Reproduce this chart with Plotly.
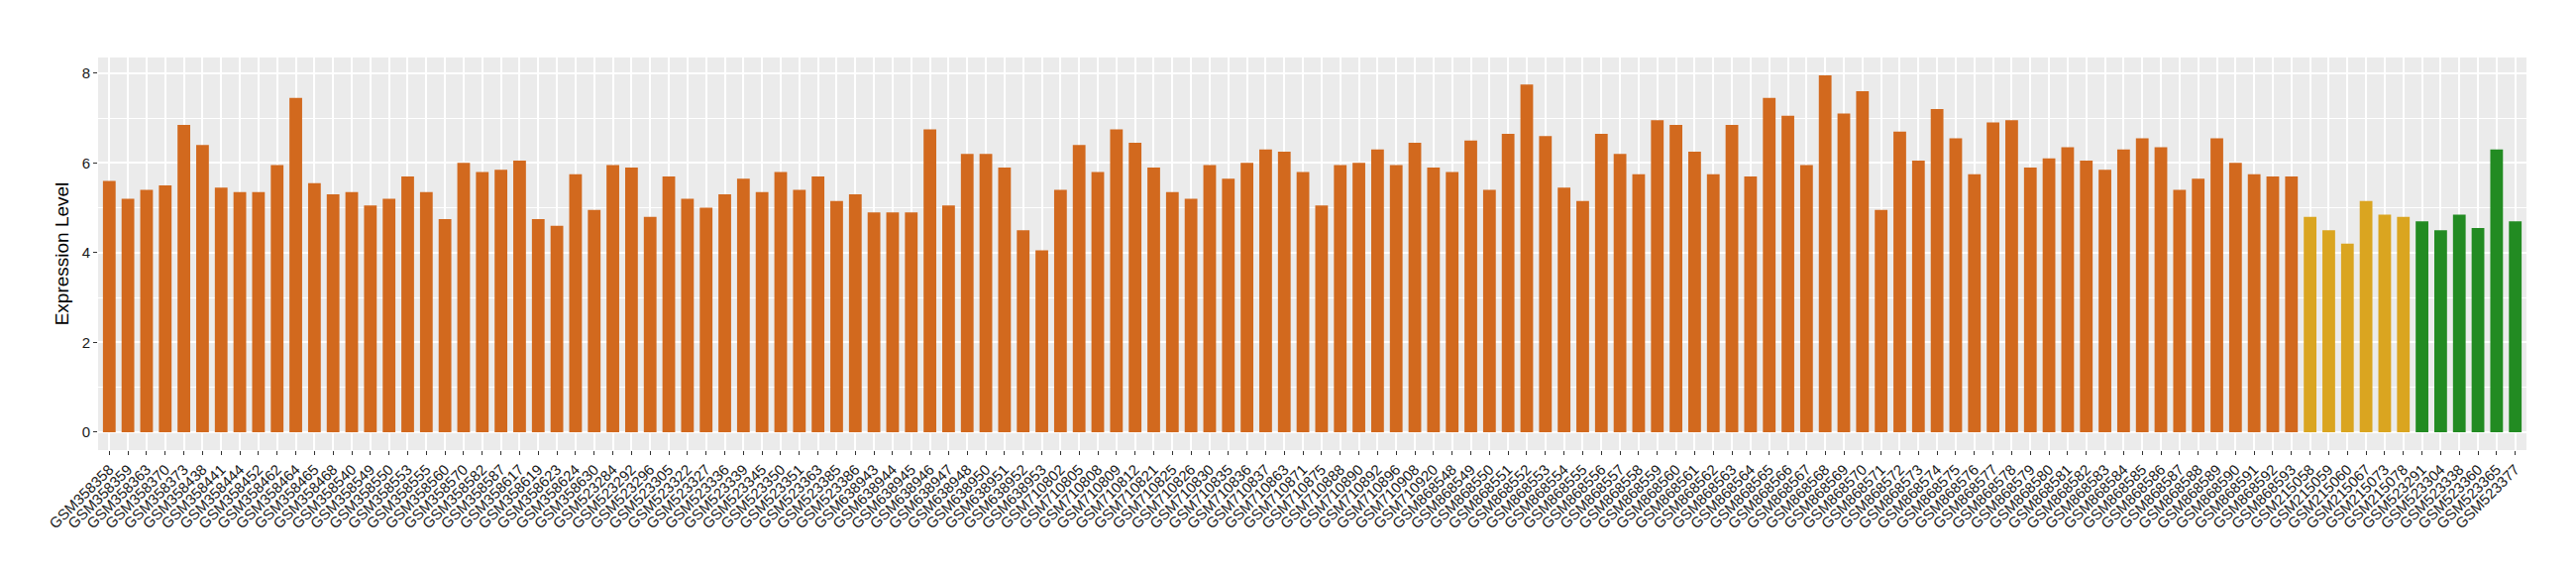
import plotly.graph_objects as go

samples = [
    "GSM358358", "GSM358359", "GSM358363", "GSM358370", "GSM358373", "GSM358438", "GSM358441", "GSM358444",
    "GSM358452", "GSM358462", "GSM358464", "GSM358465", "GSM358468", "GSM358540", "GSM358549", "GSM358550",
    "GSM358553", "GSM358555", "GSM358560", "GSM358570", "GSM358582", "GSM358587", "GSM358617", "GSM358619",
    "GSM358623", "GSM358624", "GSM358630", "GSM523284", "GSM523292", "GSM523296", "GSM523305", "GSM523322",
    "GSM523327", "GSM523336", "GSM523339", "GSM523345", "GSM523350", "GSM523351", "GSM523363", "GSM523385",
    "GSM523386", "GSM638943", "GSM638944", "GSM638945", "GSM638946", "GSM638947", "GSM638948", "GSM638950",
    "GSM638951", "GSM638952", "GSM638953", "GSM710802", "GSM710805", "GSM710808", "GSM710809", "GSM710812",
    "GSM710821", "GSM710825", "GSM710826", "GSM710830", "GSM710835", "GSM710836", "GSM710837", "GSM710863",
    "GSM710871", "GSM710875", "GSM710888", "GSM710890", "GSM710892", "GSM710896", "GSM710908", "GSM710920",
    "GSM868548", "GSM868549", "GSM868550", "GSM868551", "GSM868552", "GSM868553", "GSM868554", "GSM868555",
    "GSM868556", "GSM868557", "GSM868558", "GSM868559", "GSM868560", "GSM868561", "GSM868562", "GSM868563",
    "GSM868564", "GSM868565", "GSM868566", "GSM868567", "GSM868568", "GSM868569", "GSM868570", "GSM868571",
    "GSM868572", "GSM868573", "GSM868574", "GSM868575", "GSM868576", "GSM868577", "GSM868578", "GSM868579",
    "GSM868580", "GSM868581", "GSM868582", "GSM868583", "GSM868584", "GSM868585", "GSM868586", "GSM868587",
    "GSM868588", "GSM868589", "GSM868590", "GSM868591", "GSM868592", "GSM868593",
    "GSM215058", "GSM215059", "GSM215060", "GSM215067", "GSM215073", "GSM215078",
    "GSM523291", "GSM523304", "GSM523338", "GSM523360", "GSM523365", "GSM523377",
]

values = [
    5.6, 5.2, 5.4, 5.5, 6.85, 6.4, 5.45, 5.35, 5.35, 5.95, 7.45, 5.55, 5.3, 5.35, 5.05, 5.2,
    5.7, 5.35, 4.75, 6.0, 5.8, 5.85, 6.05, 4.75, 4.6, 5.75, 4.95, 5.95, 5.9, 4.8, 5.7, 5.2,
    5.0, 5.3, 5.65, 5.35, 5.8, 5.4, 5.7, 5.15, 5.3, 4.9, 4.9, 4.9, 6.75, 5.05, 6.2, 6.2,
    5.9, 4.5, 4.05, 5.4, 6.4, 5.8, 6.75, 6.45, 5.9, 5.35, 5.2, 5.95, 5.65, 6.0, 6.3, 6.25,
    5.8, 5.05, 5.95, 6.0, 6.3, 5.95, 6.45, 5.9, 5.8, 6.5, 5.4, 6.65, 7.75, 6.6, 5.45, 5.15,
    6.65, 6.2, 5.75, 6.95, 6.85, 6.25, 5.75, 6.85, 5.7, 7.45, 7.05, 5.95, 7.95, 7.1, 7.6, 4.95,
    6.7, 6.05, 7.2, 6.55, 5.75, 6.9, 6.95, 5.9, 6.1, 6.35, 6.05, 5.85, 6.3, 6.55, 6.35, 5.4,
    5.65, 6.55, 6.0, 5.75, 5.7, 5.7,
    4.8, 4.5, 4.2, 5.15, 4.85, 4.8,
    4.7, 4.5, 4.85, 4.55, 6.3, 4.7,
]

groups = ["A"] * 118 + ["B"] * 6 + ["C"] * 6
group_colors = {"A": "#D2691E", "B": "#DAA520", "C": "#228B22"}

fig = go.Figure()
fig.add_trace(go.Bar(
    x=samples,
    y=values,
    marker=dict(color=[group_colors[g] for g in groups], line=dict(width=0)),
    width=0.68,
    showlegend=False,
))

fig.update_layout(
    width=2600, height=580,
    margin=dict(l=91, r=58, t=50, b=134, autoexpand=False),
    paper_bgcolor="white",
    plot_bgcolor="#EBEBEB",
    font=dict(family="Liberation Sans, Arial, sans-serif", color="#333333"),
    bargap=0.32,
)
fig.update_xaxes(
    type="category",
    automargin=False,
    range=[-0.6, len(samples) - 0.4],
    tickangle=-45,
    tickfont=dict(size=15, color="#1a1a1a"),
    showgrid=True, gridcolor="white", gridwidth=1.5,
    ticks="outside", ticklen=4, tickcolor="#333333",
    zeroline=False, showline=False,
)
fig.update_yaxes(
    automargin=False,
    range=[-0.4, 8.35],
    tickvals=[0, 2, 4, 6, 8],
    tickfont=dict(size=15, color="#1a1a1a"),
    showgrid=True, gridcolor="white", gridwidth=1.5,
    minor=dict(tickvals=[1, 3, 5, 7], showgrid=True, gridcolor="white", gridwidth=0.7, ticks=""),
    ticks="outside", ticklen=4, tickcolor="#333333",
    zeroline=False, showline=False,
    title=dict(text="Expression Level", font=dict(size=19, color="black"), standoff=8),
)

fig.write_html("out.html")
